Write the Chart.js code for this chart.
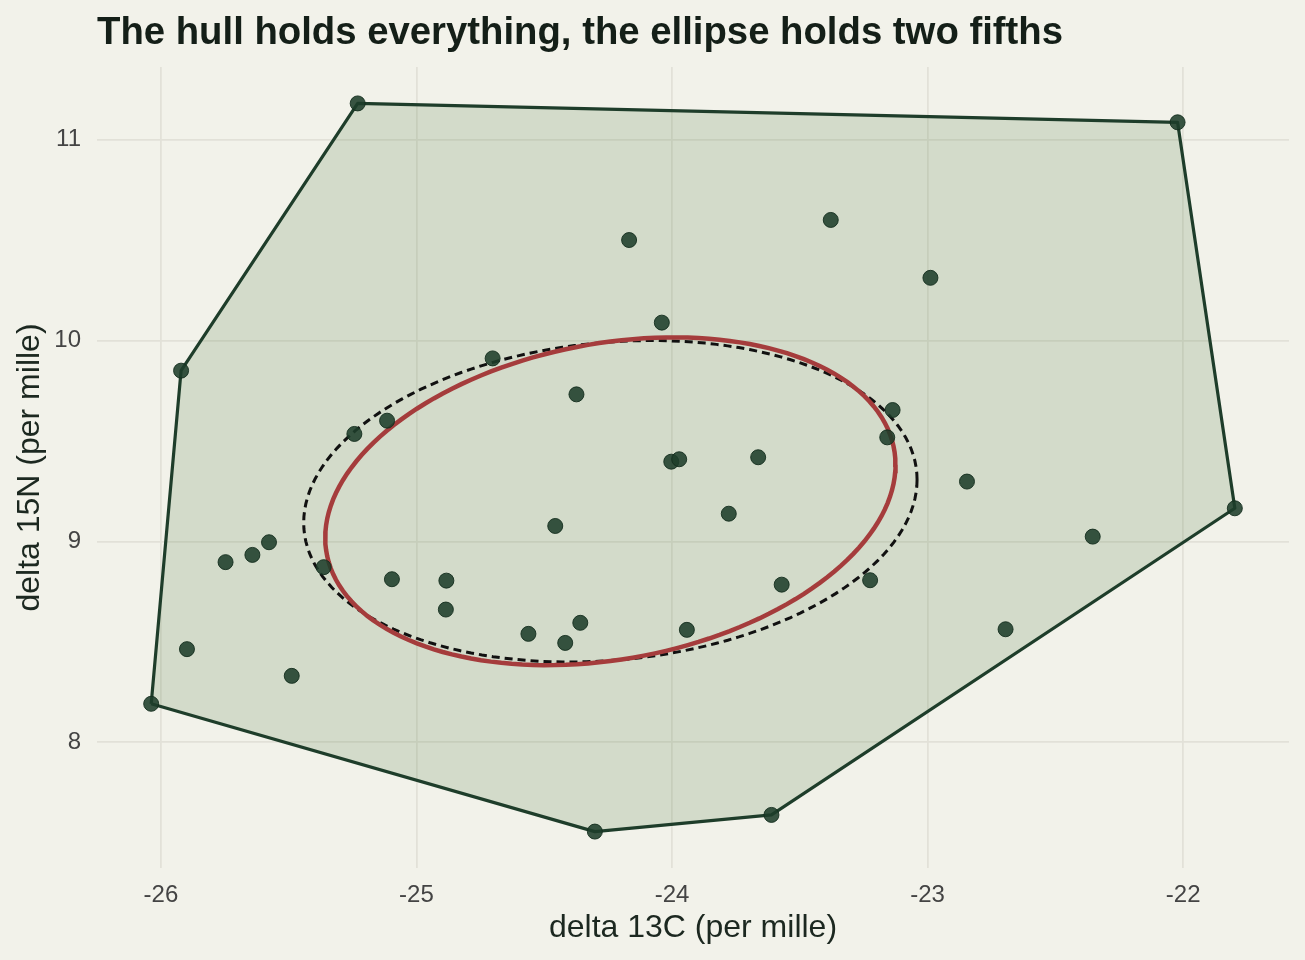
<!DOCTYPE html>
<html>
<head>
<meta charset="utf-8">
<script src="https://cdn.jsdelivr.net/npm/chart.js@4.4.0/dist/chart.umd.min.js"></script>
<style>
  html, body { margin: 0; padding: 0; background: #f2f2ea; }
  #wrap { width: 1305px; height: 960px; }
</style>
</head>
<body>
<div id="wrap"><canvas id="chart"></canvas></div>
<script>
// isotope values (per mille)
const d13C = [
  -25.230, -22.022, -25.921, -26.038, -24.302, -23.611, -21.798, -24.168,
  -23.379, -22.989, -24.040, -24.702, -24.374, -25.243, -25.115, -23.137,
  -23.158, -24.003, -23.972, -23.663, -22.846, -23.778, -24.457, -22.354,
  -25.577, -25.642, -25.747, -25.363, -25.096, -24.883, -24.885, -23.225,
  -23.571, -25.898, -25.488, -24.562, -24.418, -24.359, -23.942, -22.695
];
const d15N = [
  11.180, 11.086, 9.850, 8.192, 7.556, 7.639, 9.165, 10.500,
  10.600, 10.312, 10.089, 9.911, 9.732, 9.535, 9.601, 9.654,
  9.518, 9.397, 9.409, 9.419, 9.298, 9.138, 9.077, 9.024,
  8.996, 8.933, 8.897, 8.872, 8.812, 8.805, 8.661, 8.807,
  8.785, 8.464, 8.331, 8.540, 8.495, 8.595, 8.560, 8.563
];
const xTicks = [-26, -25, -24, -23, -22];
const yTicks = [8, 9, 10, 11];

// dashed comparison ellipse (data units, about the mean)
const dashHalfWidth = 1.20;
const dashHalfHeight = 0.80;
const dashTilt = 0.107; // rise of the rightmost point above the centre

const chartTitle = "The hull holds everything, the ellipse holds two fifths";
const xTitle = "delta 13C (per mille)";
const yTitle = "delta 15N (per mille)";

const FONT = "'Liberation Sans', Arial, Helvetica, sans-serif";

const pts = d13C.map((x, i) => ({ x: x, y: d15N[i] }));

function mean(a) {
  return a.reduce((s, v) => s + v, 0) / a.length;
}

function convexHull(points) {
  let p = points.slice().sort((a, b) => a.x - b.x || a.y - b.y);
  let cross = (o, a, b) => (a.x - o.x) * (b.y - o.y) - (a.y - o.y) * (b.x - o.x);
  let lower = [];
  for (let q of p) {
    while (lower.length >= 2 && cross(lower[lower.length - 2], lower[lower.length - 1], q) <= 0) lower.pop();
    lower.push(q);
  }
  let upper = [];
  for (let i = p.length - 1; i >= 0; i--) {
    let q = p[i];
    while (upper.length >= 2 && cross(upper[upper.length - 2], upper[upper.length - 1], q) <= 0) upper.pop();
    upper.push(q);
  }
  upper.pop();
  lower.pop();
  let h = lower.concat(upper);
  h.push(h[0]);
  return h;
}

// standard ellipse: sample covariance, radius 1
function standardEllipse(xs, ys, segments) {
  let n = xs.length;
  let mx = mean(xs), my = mean(ys);
  let sxx = 0, sxy = 0, syy = 0;
  for (let i = 0; i < n; i++) {
    let dx = xs[i] - mx, dy = ys[i] - my;
    sxx += dx * dx; sxy += dx * dy; syy += dy * dy;
  }
  sxx /= n - 1; sxy /= n - 1; syy /= n - 1;
  let a = Math.sqrt(sxx), b = sxy / a, c = Math.sqrt(syy - b * b);
  return ellipseFrom(mx, my, a, b, c, segments);
}

function ellipseFrom(cx, cy, a, b, c, segments) {
  let out = [];
  for (let k = 0; k <= segments; k++) {
    let t = 2 * Math.PI * k / segments;
    out.push({ x: cx + a * Math.cos(t), y: cy + b * Math.cos(t) + c * Math.sin(t) });
  }
  return out;
}

function expand(vals) {
  let lo = Math.min(...vals), hi = Math.max(...vals);
  let pad = (hi - lo) * 0.05;
  return [lo - pad, hi + pad];
}

const [xMin, xMax] = expand(d13C);
const [yMin, yMax] = expand(d15N);

const hullPts = convexHull(pts);
const redEllipse = standardEllipse(d13C, d15N, 160);
const dashEllipse = ellipseFrom(
  mean(d13C), mean(d15N),
  dashHalfWidth, dashTilt, Math.sqrt(dashHalfHeight * dashHalfHeight - dashTilt * dashTilt),
  160
);

const backdrop = {
  id: "backdrop",
  beforeDraw(chart) {
    let ctx = chart.ctx;
    ctx.save();
    ctx.fillStyle = "#f2f2ea";
    ctx.fillRect(0, 0, chart.width, chart.height);
    ctx.restore();
  }
};

const plotTitle = {
  id: "plotTitle",
  afterDraw(chart) {
    let ctx = chart.ctx;
    ctx.save();
    ctx.font = "bold 38.3px " + FONT;
    ctx.fillStyle = "#141f18";
    ctx.textBaseline = "alphabetic";
    ctx.textAlign = "left";
    ctx.fillText(chartTitle, chart.chartArea.left, 44);
    ctx.restore();
  }
};

new Chart(document.getElementById("chart"), {
  type: "scatter",
  data: {
    datasets: [
      {
        label: "samples",
        data: pts,
        order: 0,
        pointRadius: 7.5,
        pointHoverRadius: 7.5,
        pointBackgroundColor: "rgba(30,62,42,0.88)",
        pointBorderColor: "rgba(20,45,30,0.9)",
        pointBorderWidth: 1
      },
      {
        label: "standard ellipse",
        data: redEllipse,
        order: 1,
        showLine: true,
        pointRadius: 0,
        borderColor: "#a53c3c",
        borderWidth: 4.5
      },
      {
        label: "comparison ellipse",
        data: dashEllipse,
        order: 2,
        showLine: true,
        pointRadius: 0,
        borderColor: "#111111",
        borderWidth: 3,
        borderDash: [8, 5]
      },
      {
        label: "hull",
        data: hullPts,
        order: 3,
        showLine: true,
        pointRadius: 0,
        borderColor: "#1e3d2a",
        borderWidth: 3.2,
        borderJoinStyle: "round",
        fill: "shape",
        backgroundColor: "rgba(92,131,74,0.2)"
      }
    ]
  },
  options: {
    responsive: true,
    maintainAspectRatio: false,
    animation: false,
    layout: { padding: { top: 67, right: 16, bottom: 0, left: 0 } },
    plugins: {
      legend: { display: false },
      tooltip: { enabled: false },
      title: { display: false }
    },
    scales: {
      x: {
        type: "linear",
        min: xMin,
        max: xMax,
        afterBuildTicks: (s) => { s.ticks = xTicks.map(v => ({ value: v })); },
        afterFit: (s) => { s.height = 92; },
        grid: { color: "#e2e1d8", lineWidth: 1.8, drawTicks: false },
        border: { display: false },
        ticks: {
          padding: 13,
          color: "#444444",
          font: { family: FONT, size: 24 },
          maxRotation: 0,
          autoSkip: false,
          callback: (v) => String(v)
        },
        title: {
          display: true,
          text: xTitle,
          color: "#1c2820",
          font: { family: FONT, size: 32 },
          padding: { top: 0, bottom: 13 }
        }
      },
      y: {
        type: "linear",
        min: yMin,
        max: yMax,
        afterBuildTicks: (s) => { s.ticks = yTicks.map(v => ({ value: v })); },
        afterFit: (s) => { s.width = 97; },
        grid: { color: "#e2e1d8", lineWidth: 1.8, drawTicks: false },
        border: { display: false },
        ticks: {
          padding: 16,
          color: "#444444",
          font: { family: FONT, size: 24 },
          autoSkip: false,
          callback: (v) => String(v)
        },
        title: {
          display: true,
          text: yTitle,
          color: "#1c2820",
          font: { family: FONT, size: 32 },
          padding: { top: 11, bottom: 0 }
        }
      }
    }
  },
  plugins: [backdrop, plotTitle]
});
</script>
</body>
</html>
